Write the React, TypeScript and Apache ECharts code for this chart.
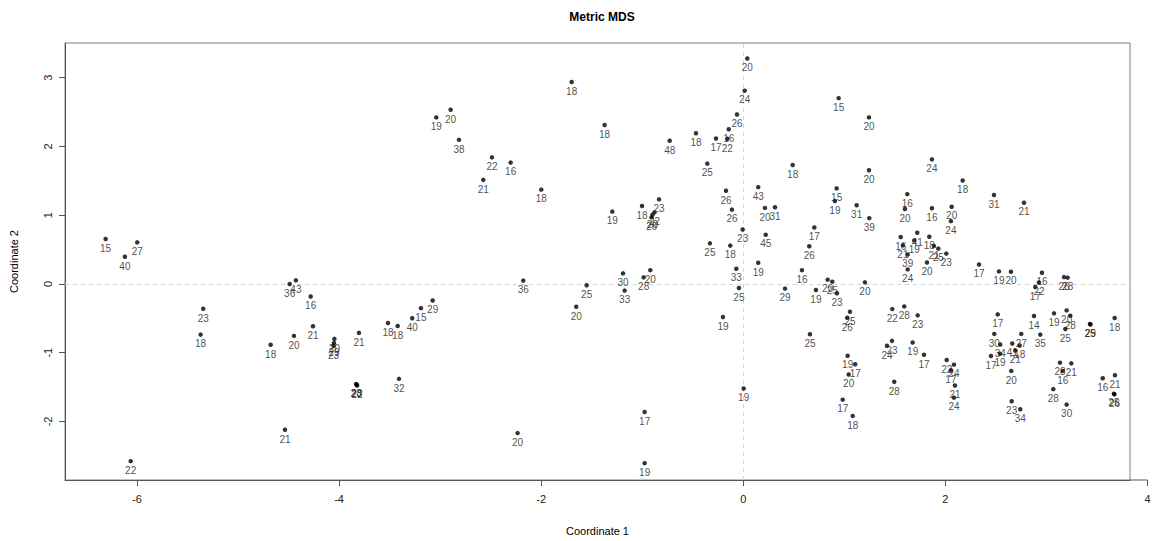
import React, { useEffect, useRef } from "react";
import * as echarts from "echarts";

const xValues = [
  -6.310, -6.119, -5.997, -5.344, -5.370, -6.062, -4.677, -4.489, -4.427, -4.281,
  -4.258, -4.446, -4.535, -4.046, -4.050, -4.055, -3.803, -3.826, -3.831, -3.821,
  -3.516, -3.420, -3.407, -3.276, -3.190, -3.074, -3.038, -2.896, -2.813, -2.487,
  -2.302, -2.573, -1.999, -2.177, -2.233, -1.698, -1.372, -1.550, -1.653, -1.296,
  -1.190, -1.174, -1.002, -0.834, -0.879, -0.899, -0.908, -0.986, -0.920, -0.976,
  -0.976, -0.728, -0.468, -0.270, -0.144, -0.158, -0.062, 0.014, 0.040, -0.356,
  -0.171, -0.112, -0.006, -0.330, -0.129, -0.069, -0.043, -0.201, 0.004, 0.148,
  0.215, 0.314, 0.222, 0.148, 0.413, 0.489, 0.581, 0.653, 0.703, 0.660,
  0.719, 0.835, 0.881, 0.927, 0.924, 0.907, 0.944, 1.244, 1.244, 1.122,
  1.247, 1.204, 1.056, 1.029, 1.033, 1.108, 1.043, 0.984, 1.083, 1.422,
  1.472, 1.676, 1.494, 1.475, 1.593, 1.726, 1.788, 1.623, 1.600, 1.558,
  1.580, 1.692, 1.627, 1.627, 1.722, 1.841, 1.887, 1.930, 2.009, 1.818,
  1.867, 2.171, 2.481, 2.778, 1.867, 2.062, 2.055, 2.333, 2.530, 2.649,
  2.956, 2.926, 2.890, 3.174, 3.210, 2.518, 2.877, 3.075, 3.200, 3.236,
  3.187, 3.431, 3.436, 3.675, 2.484, 2.543, 2.540, 2.451, 2.662, 2.735,
  2.692, 2.751, 2.652, 2.656, 2.741, 2.939, 2.013, 2.085, 2.055, 2.095,
  2.085, 3.134, 3.246, 3.161, 3.068, 3.200, 3.557, 3.678, 3.668, 3.673,
];

const yValues = [
  0.653, 0.394, 0.604, -0.362, -0.737, -2.577, -0.885, -0.001, 0.052, -0.183,
  -0.616, -0.756, -2.121, -0.799, -0.857, -0.900, -0.712, -1.466, -1.455, -1.477,
  -0.568, -0.611, -1.380, -0.500, -0.352, -0.241, 2.421, 2.532, 2.095, 1.840,
  1.764, 1.513, 1.371, 0.048, -2.169, 2.936, 2.311, -0.020, -0.333, 1.051,
  0.153, -0.097, 1.133, 1.230, 1.040, 1.004, 0.968, 0.095, 0.200, -1.862,
  -2.606, 2.081, 2.190, 2.114, 2.248, 2.110, 2.464, 2.810, 3.278, 1.749,
  1.354, 1.080, 0.792, 0.590, 0.557, 0.221, -0.059, -0.482, -1.520, 1.407,
  1.105, 1.115, 0.715, 0.307, -0.068, 1.729, 0.200, 0.547, 0.820, -0.731,
  -0.088, 0.062, 0.033, -0.136, 1.389, 1.205, 2.701, 2.421, 1.652, 1.143,
  0.956, 0.023, -0.405, -0.492, -1.044, -1.169, -1.318, -1.683, -1.919, -0.900,
  -0.828, -0.852, -1.423, -0.366, -0.327, -0.457, -1.030, 1.306, 1.090, 0.682,
  0.561, 0.633, 0.427, 0.211, 0.744, 0.686, 0.552, 0.513, 0.441, 0.311,
  1.811, 1.504, 1.292, 1.181, 1.100, 1.123, 0.913, 0.283, 0.182, 0.177,
  0.163, 0.023, -0.045, 0.099, 0.091, -0.443, -0.467, -0.428, -0.385, -0.463,
  -0.655, -0.583, -0.590, -0.496, -0.727, -0.881, -1.015, -1.048, -0.867, -0.895,
  -0.968, -0.727, -1.265, -1.707, -1.823, -0.737, -1.106, -1.174, -1.256, -1.477,
  -1.654, -1.145, -1.155, -1.265, -1.530, -1.755, -1.371, -1.328, -1.596, -1.606,
];

const pointLabels = [
  "15", "40", "27", "23", "18", "22", "18", "36", "43", "16",
  "21", "20", "21", "20", "29", "23", "21", "23", "28", "22",
  "18", "18", "32", "40", "15", "29", "19", "20", "38", "22",
  "16", "21", "18", "36", "20", "18", "18", "25", "20", "19",
  "30", "33", "18", "23", "22", "20", "26", "28", "20", "17",
  "19", "48", "18", "17", "16", "22", "26", "24", "20", "25",
  "26", "26", "23", "25", "18", "33", "25", "19", "19", "43",
  "20", "31", "45", "19", "29", "18", "16", "26", "17", "25",
  "19", "20", "25", "23", "15", "19", "15", "20", "20", "31",
  "39", "20", "25", "26", "19", "17", "20", "17", "18", "24",
  "23", "19", "28", "22", "28", "23", "17", "16", "20", "16",
  "21", "19", "39", "24", "41", "18", "21", "25", "23", "20",
  "24", "18", "31", "21", "16", "20", "24", "17", "19", "20",
  "16", "22", "17", "26", "28", "17", "14", "19", "20", "28",
  "25", "25", "29", "18", "30", "34", "19", "17", "41", "18",
  "21", "27", "20", "23", "34", "35", "22", "24", "17", "21",
  "24", "28", "21", "16", "28", "30", "16", "21", "25", "26",
];

const xTicks = [-6, -4, -2, 0, 2];
const xExtraTick = 4;
const yTicks = [-2, -1, 0, 1, 2, 3];

const chartTitle = "Metric MDS";
const xName = "Coordinate 1";
const yName = "Coordinate 2";

const FONT = "'Liberation Sans', Arial, Helvetica, sans-serif";

export default function App() {
  const ref = useRef<HTMLDivElement>(null);

  useEffect(() => {
    if (!ref.current) return;
    const chart = echarts.init(ref.current, undefined, { renderer: "svg" });
    const data = xValues.map((x, i) => ({ name: pointLabels[i], value: [x, yValues[i]] }));

    chart.setOption({
      animation: false,
      backgroundColor: "#ffffff",
      title: {
        text: chartTitle,
        left: 597,
        top: 6,
        textAlign: "center",
        textStyle: { fontFamily: FONT, fontSize: 12, fontWeight: "bold", color: "#000" },
      },
      grid: {
        left: 65,
        right: 31,
        top: 43,
        bottom: 58,
        show: true,
        borderColor: "#808080",
        borderWidth: 1,
        containLabel: false,
      },
      xAxis: {
        type: "value",
        min: -6.712,
        max: 3.827,
        name: xName,
        nameLocation: "middle",
        nameGap: 45,
        nameTextStyle: { fontFamily: FONT, fontSize: 11, color: "#000" },
        axisLine: { show: true, onZero: false, lineStyle: { color: "#555", width: 1 } },
        axisTick: { show: true, length: 6, inside: false, customValues: xTicks, lineStyle: { color: "#555" } },
        axisLabel: { show: true, margin: 13, customValues: xTicks, fontFamily: FONT, fontSize: 11, color: "#222" },
        splitLine: { show: false },
      },
      yAxis: {
        type: "value",
        min: -2.851,
        max: 3.503,
        name: yName,
        nameLocation: "middle",
        nameGap: 46,
        nameTextStyle: { fontFamily: FONT, fontSize: 11, color: "#000" },
        axisLine: { show: true, onZero: false, lineStyle: { color: "#555", width: 1 } },
        axisTick: { show: true, length: 6, inside: false, customValues: yTicks, lineStyle: { color: "#555" } },
        axisLabel: { show: true, margin: 12, rotate: 90, customValues: yTicks, fontFamily: FONT, fontSize: 11, color: "#222" },
        splitLine: { show: false },
      },
      series: [
        {
          type: "scatter",
          symbol: "circle",
          symbolSize: 4.5,
          itemStyle: { color: "#000" },
          data,
          label: {
            show: true,
            position: "bottom",
            distance: 2,
            formatter: "{b}",
            fontFamily: FONT,
            fontSize: 10,
            color: "#1a1a1a",
            textBorderWidth: 0,
            textBorderColor: "transparent",
          },
          labelLayout: { hideOverlap: false },
          markLine: {
            silent: true,
            symbol: "none",
            label: { show: false },
            lineStyle: { color: "#d3d3d3", type: [4, 4], width: 1 },
            data: [{ xAxis: 0 }, { yAxis: 0 }],
            z: 1,
          },
          z: 3,
        },
      ],
    });

    const px4 = chart.convertToPixel({ xAxisIndex: 0 }, xExtraTick) as number;
    const pxRight = chart.convertToPixel({ xAxisIndex: 0 }, 3.827) as number;
    const pyBottom = chart.convertToPixel({ yAxisIndex: 0 }, -2.851) as number;
    chart.setOption({
      graphic: [
        {
          type: "line",
          shape: { x1: pxRight, y1: pyBottom, x2: px4, y2: pyBottom },
          style: { stroke: "#555", lineWidth: 1 },
        },
        {
          type: "line",
          shape: { x1: px4, y1: pyBottom, x2: px4, y2: pyBottom + 6 },
          style: { stroke: "#555", lineWidth: 1 },
        },
        {
          type: "text",
          x: px4,
          y: pyBottom + 13,
          style: {
            text: String(xExtraTick),
            fontFamily: FONT,
            fontSize: 11,
            fill: "#222",
            align: "center",
            verticalAlign: "top",
          },
        },
      ],
    });

    return () => chart.dispose();
  }, []);

  return (
    <div
      ref={ref}
      style={{ position: "fixed", left: 0, top: 0, width: 1161, height: 541 }}
    />
  );
}
